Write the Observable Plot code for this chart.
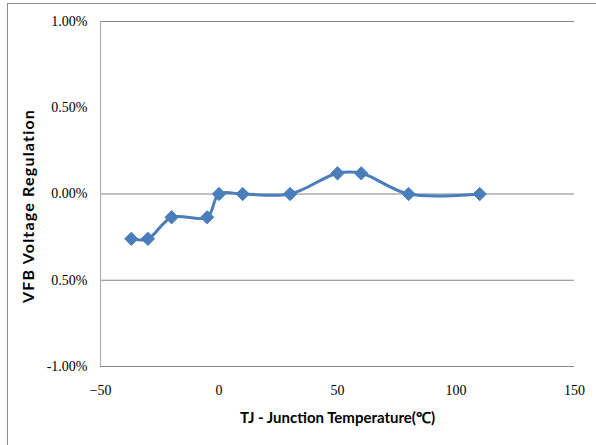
<!DOCTYPE html>
<html>
<head>
<meta charset="utf-8">
<script src="https://cdn.jsdelivr.net/npm/d3@7"></script>
<script src="https://cdn.jsdelivr.net/npm/@observablehq/plot@0.6"></script>
<style>
  html, body { margin: 0; padding: 0; background: #fff; }
  #wrap { position: relative; width: 596px; height: 445px; overflow: hidden; }
  #border { position: absolute; left: 7px; top: 3px; right: -5px; bottom: -5px;
            border-left: 1.5px solid #8c8c8c; border-top: 1.5px solid #8c8c8c; pointer-events: none; }
  g[aria-label="x-axis tick label"] text, g[aria-label="y-axis tick label"] text {
    font-family: "Liberation Serif", serif; font-size: 14px; fill: #000;
  }
  g[aria-label="x-axis label"] text, g[aria-label="y-axis label"] text {
    font-family: Lato, "Open Sans", sans-serif; font-weight: bold; font-size: 15px; fill: #000;
  }
  g[aria-label="y-axis label"] text { font-size: 16px; letter-spacing: 1.2px; }
</style>
</head>
<body>
<div id="wrap"><div id="border"></div></div>
<script>
const temperature = [-37, -30, -20, -5, 0, 10, 30, 50, 60, 80, 110];
const regulation  = [-0.26, -0.26, -0.135, -0.135, 0, 0, 0, 0.12, 0.12, 0, 0];
const xTicks = [-50, 0, 50, 100, 150];
const yTicks = [-1, -0.5, 0, 0.5, 1];
const yTickLabels = ["-1.00%", "0.50%", "0.00%", "0.50%", "1.00%"];
const gridValues = [-1, -0.5, 0, 1];

const data = temperature.map((t, i) => ({t, v: regulation[i]}));
const color = "#4a7ebb";

const chart = Plot.plot({
  width: 596,
  height: 445,
  marginLeft: 100,
  marginRight: 22,
  marginTop: 21,
  marginBottom: 79,
  x: {domain: [-50, 150]},
  y: {domain: [-1, 1]},
  marks: [
    Plot.ruleY(gridValues, {stroke: "#868686", strokeWidth: 1.2}),
    Plot.ruleX([-50], {stroke: "#b0b0b0", strokeWidth: 1.2}),
    Plot.axisX({ticks: xTicks, tickSize: 0, tickPadding: 19, label: "TJ - Junction Temperature(℃)",
                labelAnchor: "center", labelArrow: "none", labelOffset: 56}),
    Plot.axisY({ticks: yTicks, tickSize: 0, tickPadding: 13,
                tickFormat: d => yTickLabels[yTicks.indexOf(d)],
                label: "VFB Voltage Regulation", labelAnchor: "center", labelArrow: "none", labelOffset: 78}),
    Plot.line(data, {x: "t", y: "v", stroke: color, strokeWidth: 3, curve: "catmull-rom"}),
    Plot.dot(data, {x: "t", y: "v", symbol: "diamond2", fill: color, stroke: color, r: 6, strokeWidth: 1})
  ]
});
d3.select(chart).select('g[aria-label="y-axis label"] text').attr("dx", -12);
chart.style.position = "absolute";
chart.style.left = "0";
chart.style.top = "0";
document.getElementById("wrap").appendChild(chart);
</script>
</body>
</html>
